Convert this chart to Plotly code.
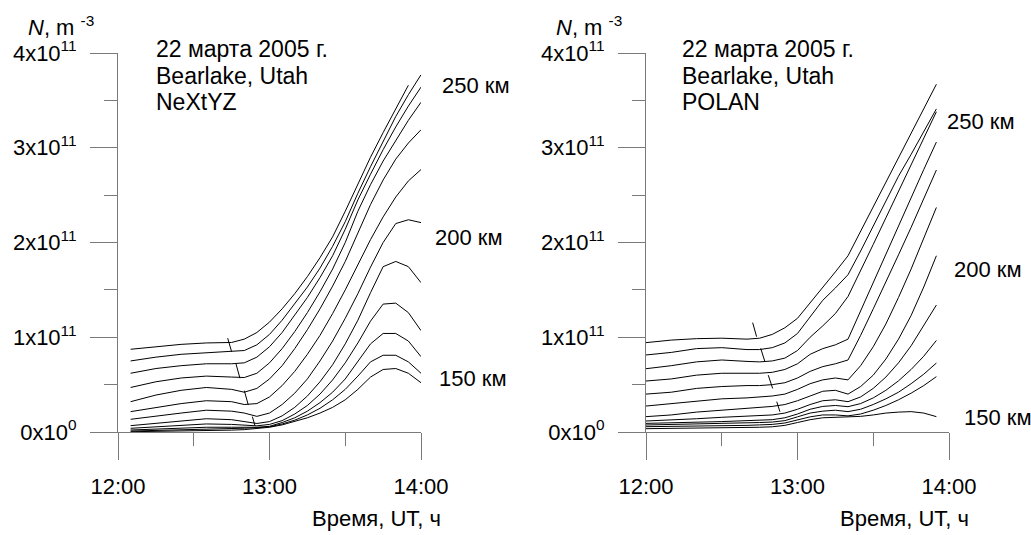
import plotly.graph_objects as go

W, H = 1031, 535
SCALE = 1e11  # values below are in units of 1e11 m^-3

# ---------------- Left panel: NeXtYZ ----------------
left_times = ["12:05", "12:15", "12:25", "12:35", "12:45", "12:50", "12:55", "13:00",
              "13:05", "13:10", "13:15", "13:20", "13:25", "13:30", "13:35", "13:40",
              "13:45", "13:50", "13:55", "14:00"]
left_n01 = [0.873, 0.90, 0.925, 0.94, 0.945, 0.98, 1.05, 1.16, 1.30, 1.46, 1.64, 1.84, 2.06, 2.33, 2.62, 2.90, 3.16, 3.41, 3.66, None]
left_n02 = [0.75, 0.79, 0.82, 0.835, 0.85, 0.86, 0.92, 1.03, 1.18, 1.35, 1.53, 1.73, 1.96, 2.22, 2.52, 2.80, 3.07, 3.33, 3.56, 3.77]
left_n03 = [0.62, 0.67, 0.70, 0.72, 0.72, 0.73, 0.79, 0.90, 1.05, 1.23, 1.42, 1.63, 1.86, 2.14, 2.45, 2.72, 2.98, 3.22, 3.44, 3.64]
left_n04 = [0.47, 0.53, 0.57, 0.59, 0.58, 0.575, 0.62, 0.73, 0.88, 1.06, 1.26, 1.48, 1.72, 2.00, 2.33, 2.61, 2.86, 3.08, 3.29, 3.48]
left_n05 = [0.32, 0.39, 0.44, 0.47, 0.45, 0.42, 0.46, 0.56, 0.70, 0.88, 1.08, 1.30, 1.54, 1.80, 2.10, 2.40, 2.66, 2.88, 3.05, 3.19]
left_n06 = [0.215, 0.26, 0.30, 0.33, 0.32, 0.29, 0.30, 0.37, 0.49, 0.64, 0.82, 1.02, 1.25, 1.50, 1.77, 2.03, 2.27, 2.48, 2.65, 2.77]
left_n07 = [0.134, 0.17, 0.20, 0.23, 0.22, 0.20, 0.165, 0.20, 0.29, 0.41, 0.56, 0.75, 0.96, 1.20, 1.46, 1.74, 2.00, 2.20, 2.24, 2.21]
left_n08 = [0.067, 0.09, 0.12, 0.14, 0.13, 0.11, 0.09, 0.11, 0.17, 0.26, 0.38, 0.53, 0.71, 0.93, 1.18, 1.47, 1.745, 1.80, 1.745, 1.576]
left_n09 = [0.039, 0.055, 0.07, 0.085, 0.08, 0.07, 0.065, 0.08, 0.12, 0.19, 0.28, 0.40, 0.55, 0.73, 0.94, 1.17, 1.35, 1.36, 1.26, 1.07]
left_n10 = [0.021, 0.03, 0.04, 0.05, 0.05, 0.05, 0.05, 0.06, 0.10, 0.15, 0.22, 0.31, 0.42, 0.56, 0.74, 0.93, 1.04, 1.04, 0.96, 0.795]
left_n11 = [0.010, 0.015, 0.02, 0.03, 0.035, 0.04, 0.045, 0.055, 0.085, 0.125, 0.18, 0.25, 0.34, 0.45, 0.59, 0.74, 0.81, 0.81, 0.74, 0.62]
left_n12 = [0.003, 0.006, 0.01, 0.015, 0.02, 0.025, 0.035, 0.05, 0.075, 0.11, 0.15, 0.20, 0.26, 0.34, 0.45, 0.58, 0.66, 0.67, 0.62, 0.52]

# short slanted marks (decimal hours, values in 1e11)
left_mark_t0 = [12.724, 12.779, 12.834, 12.887]
left_mark_t1 = [12.750, 12.805, 12.860, 12.904]
left_mark_v0 = [0.99, 0.718, 0.436, 0.162]
left_mark_v1 = [0.847, 0.567, 0.285, 0.067]

# ---------------- Right panel: POLAN ----------------
right_times = ["12:00", "12:10", "12:20", "12:30", "12:40", "12:45", "12:50", "12:55", "13:00",
               "13:05", "13:10", "13:15", "13:20", "13:25", "13:30", "13:35", "13:40", "13:45",
               "13:50", "13:55"]
right_n01 = [0.943, 0.97, 0.985, 0.99, 0.98, 0.99, 1.03, 1.10, 1.20, 1.36, 1.53, 1.69, 1.86, 2.12, 2.38, 2.64, 2.90, 3.15, 3.41, 3.67]
right_n02 = [0.813, 0.84, 0.88, 0.89, 0.87, 0.87, 0.89, 0.94, 1.04, 1.21, 1.39, 1.52, 1.66, 1.91, 2.17, 2.44, 2.70, 2.93, 3.17, 3.41]
right_n03 = [0.668, 0.70, 0.74, 0.76, 0.745, 0.74, 0.75, 0.78, 0.86, 1.00, 1.12, 1.25, 1.43, 1.70, 1.98, 2.26, 2.54, 2.82, 3.10, 3.38]
right_n04 = [0.538, 0.56, 0.60, 0.62, 0.62, 0.62, 0.63, 0.66, 0.72, 0.82, 0.88, 0.92, 0.98, 1.28, 1.58, 1.88, 2.18, 2.47, 2.77, 3.06]
right_n05 = [0.40, 0.42, 0.46, 0.48, 0.49, 0.49, 0.50, 0.52, 0.57, 0.64, 0.69, 0.72, 0.76, 1.02, 1.30, 1.58, 1.87, 2.16, 2.46, 2.765]
right_n06 = [0.274, 0.30, 0.33, 0.35, 0.36, 0.37, 0.38, 0.40, 0.45, 0.51, 0.55, 0.57, 0.55, 0.70, 0.90, 1.14, 1.42, 1.72, 2.04, 2.37]
right_n07 = [0.162, 0.18, 0.21, 0.23, 0.25, 0.26, 0.27, 0.29, 0.33, 0.38, 0.43, 0.44, 0.40, 0.48, 0.60, 0.77, 0.98, 1.23, 1.53, 1.86]
right_n08 = [0.116, 0.125, 0.14, 0.155, 0.165, 0.17, 0.18, 0.20, 0.24, 0.29, 0.33, 0.34, 0.32, 0.37, 0.46, 0.58, 0.73, 0.91, 1.12, 1.34]
right_n09 = [0.091, 0.095, 0.10, 0.11, 0.12, 0.125, 0.13, 0.15, 0.19, 0.24, 0.27, 0.28, 0.267, 0.30, 0.36, 0.44, 0.54, 0.66, 0.80, 0.966]
right_n10 = [0.074, 0.078, 0.082, 0.088, 0.095, 0.10, 0.105, 0.12, 0.16, 0.20, 0.22, 0.23, 0.215, 0.24, 0.29, 0.35, 0.42, 0.51, 0.61, 0.728]
right_n11 = [0.056, 0.058, 0.062, 0.066, 0.07, 0.075, 0.08, 0.095, 0.13, 0.16, 0.18, 0.18, 0.17, 0.19, 0.23, 0.28, 0.34, 0.41, 0.49, 0.584]
right_n12 = [0.035, 0.037, 0.04, 0.043, 0.047, 0.05, 0.055, 0.07, 0.10, 0.13, 0.15, 0.155, 0.155, 0.165, 0.18, 0.20, 0.21, 0.215, 0.20, 0.162]

right_mark_t0 = [12.704, 12.757, 12.807, 12.863]
right_mark_t1 = [12.730, 12.785, 12.836, 12.884]
right_mark_v0 = [1.154, 0.883, 0.60, 0.32]
right_mark_v1 = [1.006, 0.742, 0.46, 0.214]

# ---------------- axis / label text ----------------
y_tick_vals = [0, 1, 2, 3, 4]
y_tick_text = ["0x10<sup>0</sup>", "1x10<sup>11</sup>", "2x10<sup>11</sup>",
               "3x10<sup>11</sup>", "4x10<sup>11</sup>"]
y_minor_vals = [0.5, 1.5, 2.5, 3.5]
x_tick_vals = [12, 13, 14]
x_tick_text = ["12:00", "13:00", "14:00"]
x_minor_vals = [12.5, 13.5]

left_info = ["22 марта 2005 г.", "Bearlake, Utah", "NeXtYZ"]
right_info = ["22 марта 2005 г.", "Bearlake, Utah", "POLAN"]
height_labels = ["250 км", "200 км", "150 км"]
y_title = "<i>N</i>, m <sup>-3</sup>"
x_title = "Время, UT, ч"

FONT = "Liberation Sans, Arial, sans-serif"
AXC = "#7a7a7a"


def hrs(t):
    h, m = t.split(":")
    return int(h) + int(m) / 60.0


def scaled(vals):
    return [None if v is None else v * SCALE for v in vals]


fig = go.Figure()

left_series = [left_n01, left_n02, left_n03, left_n04, left_n05, left_n06,
               left_n07, left_n08, left_n09, left_n10, left_n11, left_n12]
right_series = [right_n01, right_n02, right_n03, right_n04, right_n05, right_n06,
                right_n07, right_n08, right_n09, right_n10, right_n11, right_n12]

lx = [hrs(t) for t in left_times]
rx = [hrs(t) for t in right_times]

for s in left_series:
    fig.add_trace(go.Scatter(x=lx, y=scaled(s), mode="lines", xaxis="x", yaxis="y",
                             line=dict(color="black", width=1), showlegend=False,
                             hoverinfo="skip"))
for s in right_series:
    fig.add_trace(go.Scatter(x=rx, y=scaled(s), mode="lines", xaxis="x2", yaxis="y2",
                             line=dict(color="black", width=1), showlegend=False,
                             hoverinfo="skip"))

for t0, t1, v0, v1 in zip(left_mark_t0, left_mark_t1, left_mark_v0, left_mark_v1):
    fig.add_trace(go.Scatter(x=[t0, t1], y=scaled([v0, v1]), mode="lines", xaxis="x", yaxis="y",
                             line=dict(color="black", width=1), showlegend=False, hoverinfo="skip"))
for t0, t1, v0, v1 in zip(right_mark_t0, right_mark_t1, right_mark_v0, right_mark_v1):
    fig.add_trace(go.Scatter(x=[t0, t1], y=scaled([v0, v1]), mode="lines", xaxis="x2", yaxis="y2",
                             line=dict(color="black", width=1), showlegend=False, hoverinfo="skip"))


def px(x):
    return x / W


def py(y):
    return 1 - y / H


ydom = [py(432), py(53)]


def xaxis_cfg(dom, anchor):
    return dict(domain=dom, anchor=anchor, range=[12, 14], showline=True, linecolor=AXC,
                linewidth=1, ticks="outside", ticklen=27, tickwidth=1, tickcolor=AXC,
                tickmode="array", tickvals=x_tick_vals, ticktext=x_tick_text,
                tickfont=dict(family=FONT, size=22, color="black"), ticklabelstandoff=8,
                minor=dict(tickmode="array", tickvals=x_minor_vals, ticklen=13, ticks="outside",
                           tickcolor=AXC, tickwidth=1, showgrid=False),
                showgrid=False, zeroline=False, automargin=False, fixedrange=True)


def yaxis_cfg(anchor):
    return dict(domain=ydom, anchor=anchor, range=[0, 4 * SCALE], showline=True, linecolor=AXC,
                linewidth=1, ticks="outside", ticklen=27, tickwidth=1, tickcolor=AXC,
                tickmode="array", tickvals=[v * SCALE for v in y_tick_vals], ticktext=y_tick_text,
                tickfont=dict(family=FONT, size=22, color="black"), ticklabelstandoff=9,
                minor=dict(tickmode="array", tickvals=[v * SCALE for v in y_minor_vals], ticklen=13,
                           ticks="outside", tickcolor=AXC, tickwidth=1, showgrid=False),
                showgrid=False, zeroline=False, automargin=False, fixedrange=True)


annotations = []


def add_text(text, x, y, anchor="left", size=22):
    annotations.append(dict(text=text, x=px(x), y=py(y), xref="paper", yref="paper",
                            xanchor=anchor, yanchor="middle", showarrow=False,
                            font=dict(family=FONT, size=size, color="black")))


for i, line in enumerate(left_info):
    add_text(line, 154, 49 + i * 26.5, size=23)
for i, line in enumerate(right_info):
    add_text(line, 680, 49 + i * 26.5, size=23)

# height labels
for lab, (x, y) in zip(height_labels, [(440, 85), (433, 237), (437, 379)]):
    add_text(lab, x, y, size=22)
for lab, (x, y) in zip(height_labels, [(945, 121), (952, 270), (962, 417)]):
    add_text(lab, x, y, size=22)

# axis titles
add_text(y_title, 26, 26, size=22)
add_text(y_title, 554, 26, size=22)
add_text(x_title, 310, 518, size=22)
add_text(x_title, 838, 518, size=22)

fig.update_layout(
    width=W, height=H, margin=dict(l=0, r=0, t=0, b=0),
    paper_bgcolor="white", plot_bgcolor="white",
    xaxis=xaxis_cfg([px(118), px(421)], "y"),
    yaxis=yaxis_cfg("x"),
    xaxis2=xaxis_cfg([px(646), px(949)], "y2"),
    yaxis2=yaxis_cfg("x2"),
    annotations=annotations,
    showlegend=False,
    font=dict(family=FONT, color="black"),
)

fig.write_html("out.html", config={"displayModeBar": False},
               post_script="document.body.style.margin='0';")
